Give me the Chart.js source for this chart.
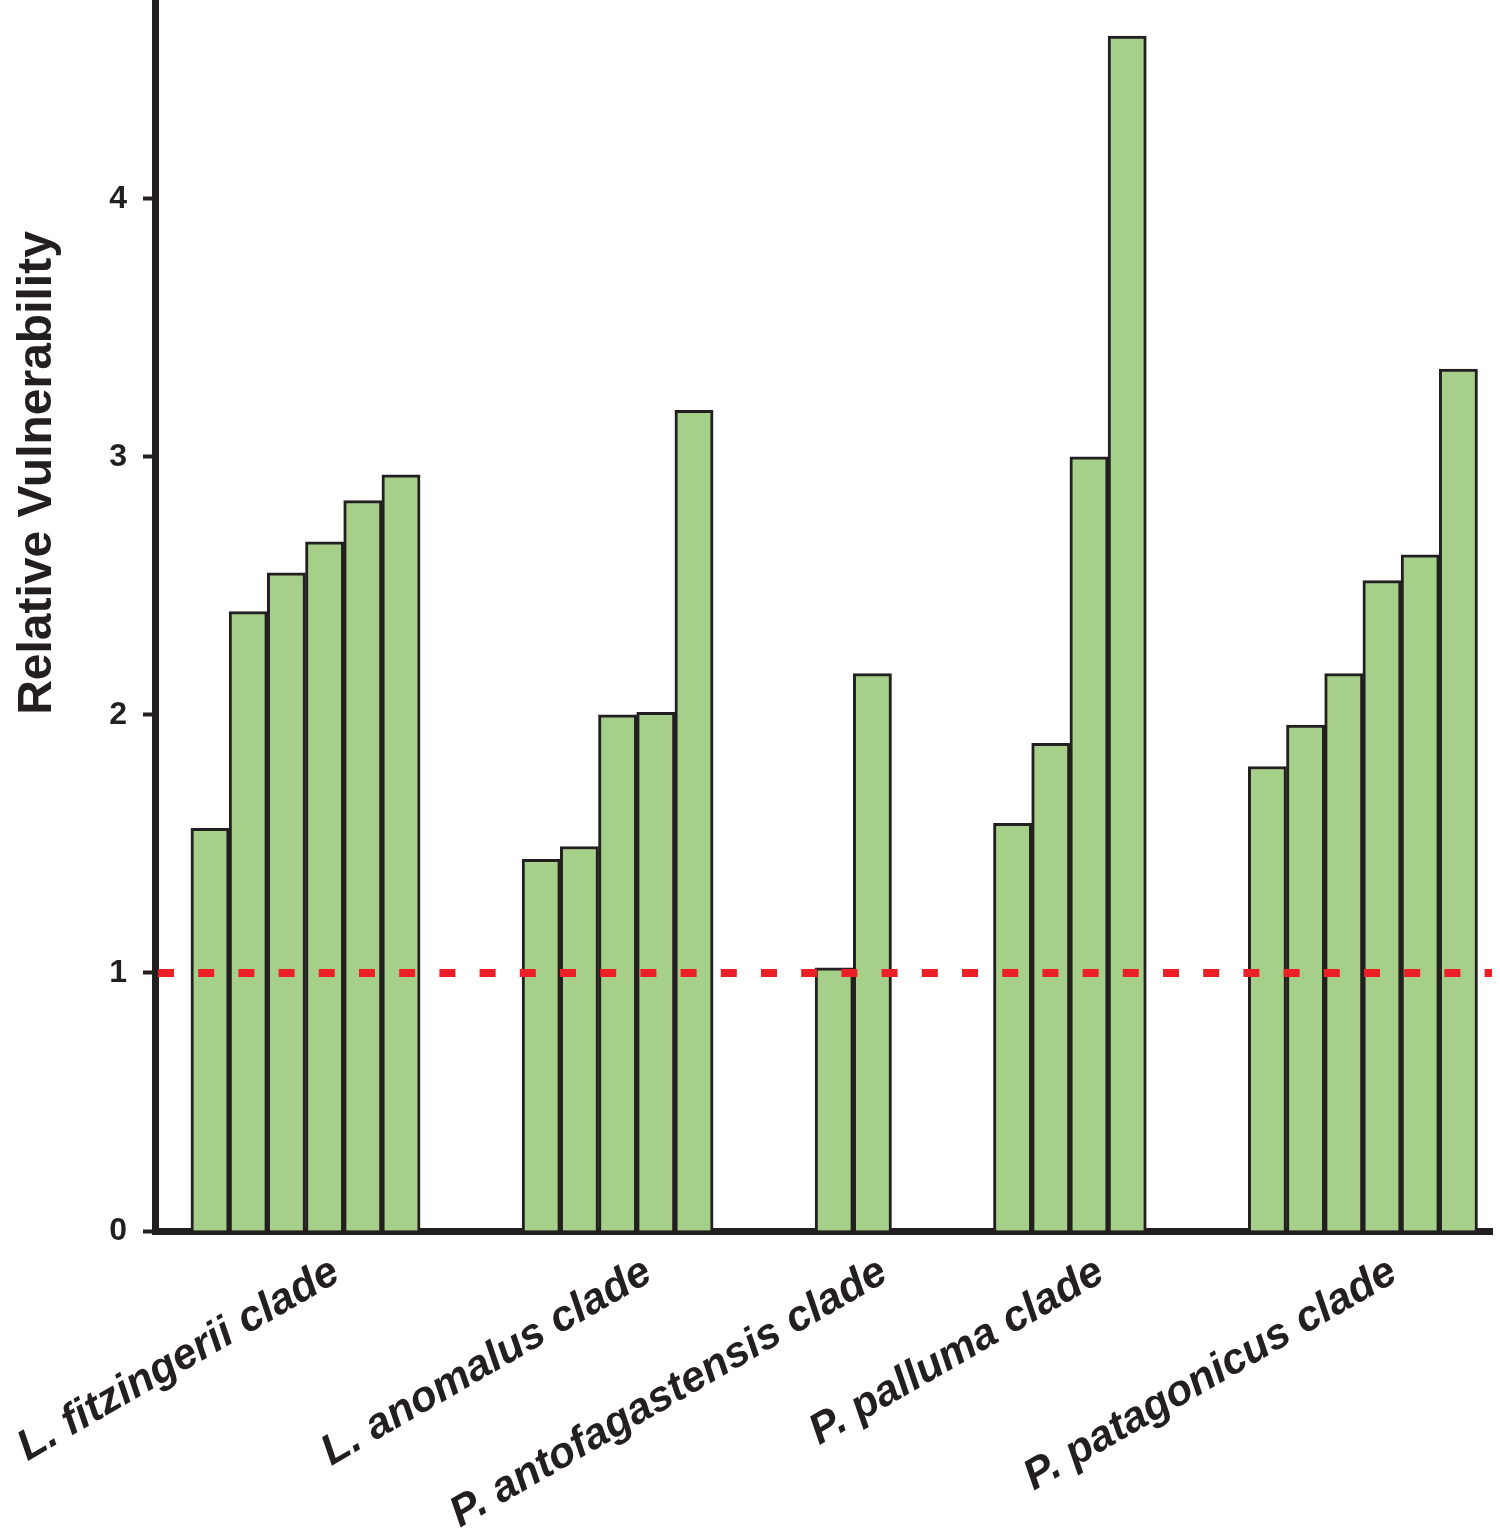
<!DOCTYPE html>
<html><head><meta charset="utf-8">
<script src="https://cdn.jsdelivr.net/npm/chart.js@4"></script>
<style>html,body{margin:0;padding:0;background:#fff}#wrap{width:1500px;height:1535px;position:relative}</style>
</head><body><div id="wrap"><canvas id="c"></canvas></div>
<script>
// ---- data ----
const clades = ['L. fitzingerii clade', 'L. anomalus clade', 'P. antofagastensis clade', 'P. palluma clade', 'P. patagonicus clade'];
const fitzingerii = [1.56, 2.40, 2.55, 2.67, 2.83, 2.93];
const anomalus = [1.44, 1.49, 2.00, 2.01, 3.18];
const antofagastensis = [1.02, 2.16];
const palluma = [1.58, 1.89, 3.00, 4.63];
const patagonicus = [1.80, 1.96, 2.16, 2.52, 2.62, 3.34];
const yTickValues = [0, 1, 2, 3, 4];
const referenceLevel = 1;
const yTitle = 'Relative Vulnerability';

// ---- layout (in bar-width units) ----
const groups = [fitzingerii, anomalus, antofagastensis, palluma, patagonicus];
const LEAD = 0.94, GAP = 2.67, XMAX = 35, LABEL_SHIFT = 0.8;
const barPoints = [];
const groupCenters = [];
let pos = LEAD;
groups.forEach((g) => {
  const start = pos;
  g.forEach((v) => { barPoints.push({x: pos + 0.5, y: v}); pos += 1; });
  groupCenters.push(start + g.length / 2 + LABEL_SHIFT);
  pos += GAP;
});

const INK = '#231f20';
const FONT = '"Liberation Sans", Arial, Helvetica, sans-serif';

const yTitlePlugin = {
  id: 'yTitle',
  afterDraw(chart) {
    const ctx = chart.ctx;
    ctx.save();
    ctx.translate(38, 473);
    ctx.rotate(-Math.PI / 2);
    ctx.font = 'bold 48px ' + FONT;
    ctx.fillStyle = INK;
    ctx.textAlign = 'center';
    ctx.textBaseline = 'middle';
    ctx.fillText(yTitle, 0, 0);
    ctx.restore();
  }
};

new Chart(document.getElementById('c'), {
  data: {
    datasets: [
      {
        type: 'line',
        data: [{x: 0, y: referenceLevel}, {x: XMAX, y: referenceLevel}],
        borderColor: '#ec1f26',
        borderWidth: 8,
        borderDash: [16, 24.2],
        borderDashOffset: -3,
        pointRadius: 0,
        order: 0
      },
      {
        type: 'bar',
        data: barPoints,
        backgroundColor: '#a6d08a',
        borderColor: INK,
        borderWidth: 3,
        borderSkipped: 'start',
        barPercentage: 1,
        categoryPercentage: 1,
        order: 1
      }
    ]
  },
  options: {
    responsive: true,
    maintainAspectRatio: false,
    animation: false,
    layout: {padding: {left: 0, right: 8, top: 0, bottom: 0}},
    plugins: {legend: {display: false}, tooltip: {enabled: false}},
    scales: {
      x: {
        type: 'linear',
        min: 0,
        max: XMAX,
        offset: false,
        grid: {display: false},
        border: {display: true, color: INK, width: 7},
        afterBuildTicks: (s) => { s.ticks = groupCenters.map(v => ({value: v})); },
        afterFit: (s) => { s.height = 1535 - 1231; s.paddingLeft = 0; s.paddingRight = 0; },
        ticks: {
          autoSkip: false,
          minRotation: 30,
          maxRotation: 30,
          padding: 8,
          color: INK,
          font: {family: FONT, size: 43, weight: 'bold', style: 'italic'},
          callback: (v, i) => clades[i]
        }
      },
      y: {
        type: 'linear',
        min: 0,
        max: 4.77,
        afterBuildTicks: (s) => { s.ticks = yTickValues.map(v => ({value: v})); },
        afterFit: (s) => { s.width = 155; s.paddingTop = 0; s.paddingBottom = 0; },
        grid: {display: true, drawOnChartArea: false, drawTicks: true, tickLength: 12, tickWidth: 4, tickColor: INK},
        border: {display: true, color: INK, width: 7},
        ticks: {
          padding: 16,
          color: INK,
          font: {family: FONT, size: 32, weight: 'bold'},
          callback: (v) => String(v)
        }
      }
    }
  },
  plugins: [yTitlePlugin]
});
</script>
</body></html>
